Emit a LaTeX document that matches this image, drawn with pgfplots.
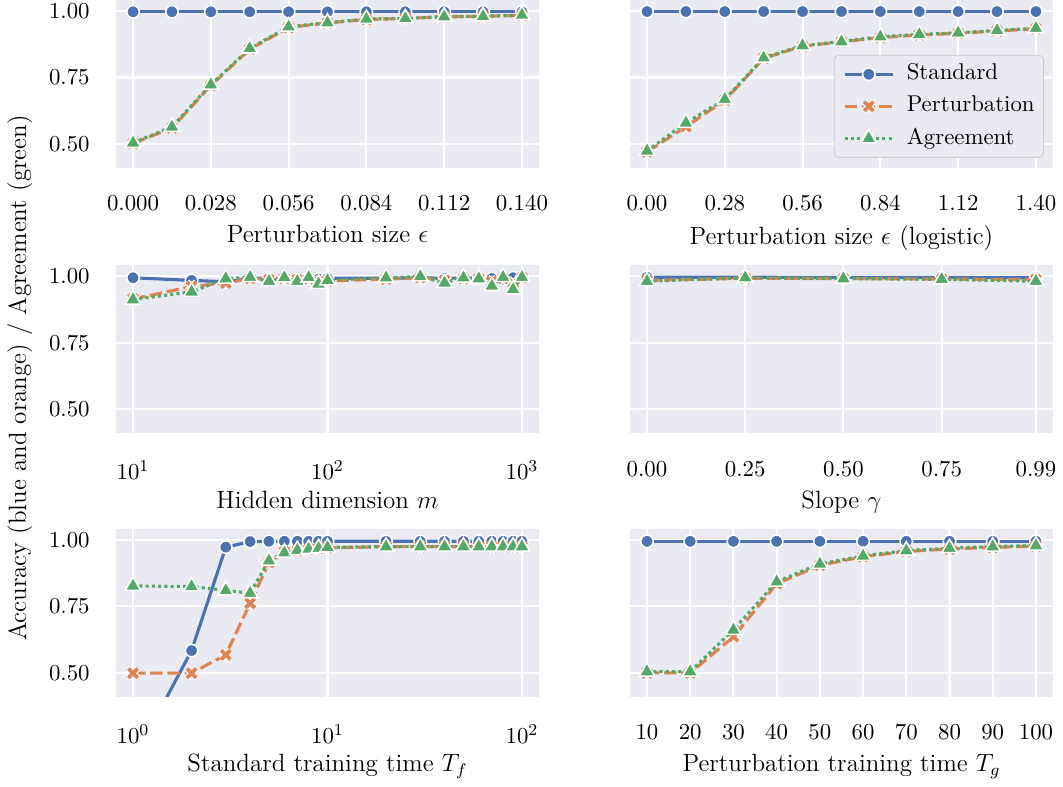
\documentclass[border=0pt]{standalone}
\usepackage{pgfplots}
\pgfplotsset{compat=1.18}

\definecolor{sbblue}{HTML}{4C72B0}
\definecolor{sborange}{HTML}{DD8452}
\definecolor{sbgreen}{HTML}{55A868}
\definecolor{sbbg}{HTML}{EAEAF2}

% thick cross with a white rim, like the seaborn "X" marker
\pgfdeclareplotmark{fatx}{%
  \pgfpathmoveto{\pgfqpoint{-\pgfplotmarksize}{-\pgfplotmarksize}}%
  \pgfpathlineto{\pgfqpoint{\pgfplotmarksize}{\pgfplotmarksize}}%
  \pgfpathmoveto{\pgfqpoint{-\pgfplotmarksize}{\pgfplotmarksize}}%
  \pgfpathlineto{\pgfqpoint{\pgfplotmarksize}{-\pgfplotmarksize}}%
  \pgfsetlinewidth{3.1pt}\pgfsetstrokecolor{white}%
  \pgfusepathqstroke
  \pgfpathmoveto{\pgfqpoint{-\pgfplotmarksize}{-\pgfplotmarksize}}%
  \pgfpathlineto{\pgfqpoint{\pgfplotmarksize}{\pgfplotmarksize}}%
  \pgfpathmoveto{\pgfqpoint{-\pgfplotmarksize}{\pgfplotmarksize}}%
  \pgfpathlineto{\pgfqpoint{\pgfplotmarksize}{-\pgfplotmarksize}}%
  \pgfsetlinewidth{1.8pt}\pgfsetstrokecolor{sborange}%
  \pgfusepathqstroke
}

\pgfplotsset{
  sb/.style={
    anchor=north west,
    scale only axis, width=203pt, height=80.6pt,
    ymin=0.4098, ymax=1.0414,
    ytick={0.5,0.75,1.0}, yticklabels={0.50,0.75,1.00},
    axis background/.style={fill=sbbg},
    axis line style={draw=none},
    major tick length=0pt, minor tick length=0pt,
    tick style={draw=none},
    grid=major, grid style={white, line width=1pt},
    tick label style={font=\fontsize{10.95}{13}\selectfont},
    xticklabel style={anchor=north, inner sep=0pt, yshift=-13pt},
    yticklabel style={anchor=east, inner sep=0pt, xshift=-12.5pt},
    label style={font=\fontsize{12}{14}\selectfont},
    xlabel style={at={(axis description cs:0.5,0)}, anchor=north, inner sep=0pt, yshift=-27.4pt},
    clip marker paths=true,
    legend image code/.code={\draw[mark repeat=2,mark phase=2,##1] plot coordinates {(0pt,0pt) (11.5pt,0pt) (23pt,0pt)};},
  },
  noy/.style={yticklabels={}},
  std/.style={sbblue, line width=1.5pt, mark=*, mark size=3pt,
    mark options={solid, fill=sbblue, draw=white, line width=0.75pt}},
  pert/.style={sborange, line width=1.5pt, dash pattern=on 6pt off 2.25pt,
    mark=fatx, mark size=2.2pt, mark options={solid}},
  agr/.style={sbgreen, line width=1.5pt, dash pattern=on 1.5pt off 1.5pt,
    mark=triangle*, mark size=4.3pt,
    mark options={solid, fill=sbgreen, draw=white, line width=0.75pt}},
}

\begin{document}
\begin{tikzpicture}
\path[use as bounding box] (0,0) rectangle (510.24pt,-377.28pt);

% row 1, left: perturbation size
\begin{axis}[sb, at={(55.7pt,0pt)},
  xmin=-0.00612, xmax=0.14612,
  xtick={0,0.028,0.056,0.084,0.112,0.14},
  xticklabels={0.000,0.028,0.056,0.084,0.112,0.140},
  xlabel={Perturbation size $\epsilon$}]
\addplot[std] coordinates {(0,0.997) (0.014,0.997) (0.028,0.997) (0.042,0.997) (0.056,0.997) (0.070,0.997) (0.084,0.997) (0.098,0.997) (0.112,0.997) (0.126,0.997) (0.140,0.997)};
\addplot[pert] coordinates {(0,0.502) (0.014,0.560) (0.028,0.720) (0.042,0.856) (0.056,0.938) (0.070,0.955) (0.084,0.968) (0.098,0.972) (0.112,0.978) (0.126,0.980) (0.140,0.983)};
\addplot[agr] coordinates {(0,0.504) (0.014,0.564) (0.028,0.723) (0.042,0.859) (0.056,0.941) (0.070,0.956) (0.084,0.970) (0.098,0.972) (0.112,0.979) (0.126,0.980) (0.140,0.985)};
\end{axis}

% row 1, right: logistic perturbation size
\begin{axis}[sb, noy, at={(302.4pt,0pt)},
  xmin=-0.0612, xmax=1.4612,
  xtick={0,0.28,0.56,0.84,1.12,1.40},
  xticklabels={0.00,0.28,0.56,0.84,1.12,1.40},
  xlabel={Perturbation size $\epsilon$ (logistic)},
  legend style={at={(0.979,0.673)}, anchor=north east,
    fill=sbbg, draw=black!20, rounded corners=2pt,
    font=\fontsize{10.95}{13}\selectfont,
    inner xsep=4.3pt, inner ysep=4.2pt, column sep=6pt, row sep=5.6pt,
    nodes={inner sep=0pt, text height=7.6pt, text depth=2.2pt}},
  legend cell align=left]
\addplot[std] coordinates {(0,0.998) (0.14,0.998) (0.28,0.998) (0.42,0.998) (0.56,0.998) (0.70,0.998) (0.84,0.998) (0.98,0.998) (1.12,0.998) (1.26,0.998) (1.40,0.998)};
\addplot[pert] coordinates {(0,0.470) (0.14,0.565) (0.28,0.664) (0.42,0.822) (0.56,0.868) (0.70,0.884) (0.84,0.900) (0.98,0.910) (1.12,0.916) (1.26,0.925) (1.40,0.933)};
\addplot[agr] coordinates {(0,0.474) (0.14,0.579) (0.28,0.668) (0.42,0.824) (0.56,0.870) (0.70,0.885) (0.84,0.903) (0.98,0.912) (1.12,0.918) (1.26,0.927) (1.40,0.935)};
\legend{Standard,Perturbation,Agreement}
\end{axis}

% row 2, left: hidden dimension
\begin{axis}[sb, xmode=log, at={(55.7pt,-127.4pt)},
  xmin=8.178, xmax=1223,
  xtick={10,100,1000}, xticklabels={$10^{1}$,$10^{2}$,$10^{3}$},
  xlabel={Hidden dimension $m$}]
\addplot[std] coordinates {(10,0.995) (20,0.985) (30,0.980) (40,0.993) (50,0.993) (60,0.994) (70,0.990) (80,0.992) (90,0.990) (100,0.993) (200,0.993) (300,0.995) (400,0.993) (500,0.994) (600,0.994) (700,0.992) (800,0.990) (900,0.995) (1000,0.995)};
\addplot[pert] coordinates {(10,0.915) (20,0.962) (30,0.975) (40,0.992) (50,0.988) (60,0.992) (70,0.988) (80,0.990) (90,0.978) (100,0.983) (200,0.990) (300,0.995) (400,0.985) (500,0.992) (600,0.992) (700,0.980) (800,0.992) (900,0.975) (1000,0.995)};
\addplot[agr] coordinates {(10,0.913) (20,0.942) (30,0.992) (40,0.997) (50,0.982) (60,0.996) (70,0.982) (80,0.996) (90,0.972) (100,0.985) (200,0.995) (300,1.000) (400,0.976) (500,0.995) (600,0.992) (700,0.964) (800,0.997) (900,0.951) (1000,0.997)};
\end{axis}

% row 2, right: slope
\begin{axis}[sb, noy, at={(302.4pt,-127.4pt)},
  xmin=-0.0433, xmax=1.0333,
  xtick={0,0.25,0.5,0.75,0.99},
  xticklabels={0.00,0.25,0.50,0.75,0.99},
  xlabel={Slope $\gamma$}]
\addplot[std] coordinates {(0,0.997) (0.25,0.997) (0.5,0.996) (0.75,0.996) (0.99,0.995)};
\addplot[pert] coordinates {(0,0.985) (0.25,0.993) (0.5,0.992) (0.75,0.990) (0.99,0.988)};
\addplot[agr] coordinates {(0,0.982) (0.25,0.995) (0.5,0.992) (0.75,0.989) (0.99,0.982)};
\end{axis}

% row 3, left: standard training time
\begin{axis}[sb, xmode=log, at={(55.7pt,-253.9pt)},
  xmin=0.8178, xmax=122.3,
  xtick={1,10,100}, xticklabels={$10^{0}$,$10^{1}$,$10^{2}$},
  xlabel={Standard training time $T_f$}]
\addplot[std] coordinates {(1,0.17) (2,0.584) (3,0.973) (4,0.994) (5,0.995) (6,0.995) (7,0.995) (8,0.995) (9,0.995) (10,0.995) (20,0.995) (30,0.995) (40,0.995) (50,0.995) (60,0.995) (70,0.995) (80,0.995) (90,0.995) (100,0.995)};
\addplot[pert] coordinates {(1,0.499) (2,0.499) (3,0.568) (4,0.762) (5,0.915) (6,0.955) (7,0.960) (8,0.965) (9,0.968) (10,0.970) (20,0.975) (30,0.975) (40,0.975) (50,0.975) (60,0.975) (70,0.975) (80,0.975) (90,0.975) (100,0.975)};
\addplot[agr] coordinates {(1,0.827) (2,0.825) (3,0.810) (4,0.800) (5,0.922) (6,0.952) (7,0.962) (8,0.966) (9,0.969) (10,0.972) (20,0.975) (30,0.975) (40,0.975) (50,0.975) (60,0.975) (70,0.975) (80,0.975) (90,0.975) (100,0.975)};
\end{axis}

% row 3, right: perturbation training time
\begin{axis}[sb, noy, at={(302.4pt,-253.9pt)},
  xmin=6.07, xmax=103.93,
  xtick={10,20,30,40,50,60,70,80,90,100},
  xlabel={Perturbation training time $T_g$}]
\addplot[std] coordinates {(10,0.995) (20,0.995) (30,0.995) (40,0.995) (50,0.995) (60,0.995) (70,0.995) (80,0.995) (90,0.995) (100,0.995)};
\addplot[pert] coordinates {(10,0.500) (20,0.500) (30,0.636) (40,0.835) (50,0.905) (60,0.937) (70,0.957) (80,0.966) (90,0.972) (100,0.977)};
\addplot[agr] coordinates {(10,0.505) (20,0.505) (30,0.662) (40,0.843) (50,0.910) (60,0.940) (70,0.960) (80,0.969) (90,0.975) (100,0.979)};
\end{axis}

\node[rotate=90, anchor=base, font=\fontsize{12}{14}\selectfont] at (12.5pt,-181.5pt)
  {Accuracy (blue and orange) / Agreement (green)};
\end{tikzpicture}
\end{document}
